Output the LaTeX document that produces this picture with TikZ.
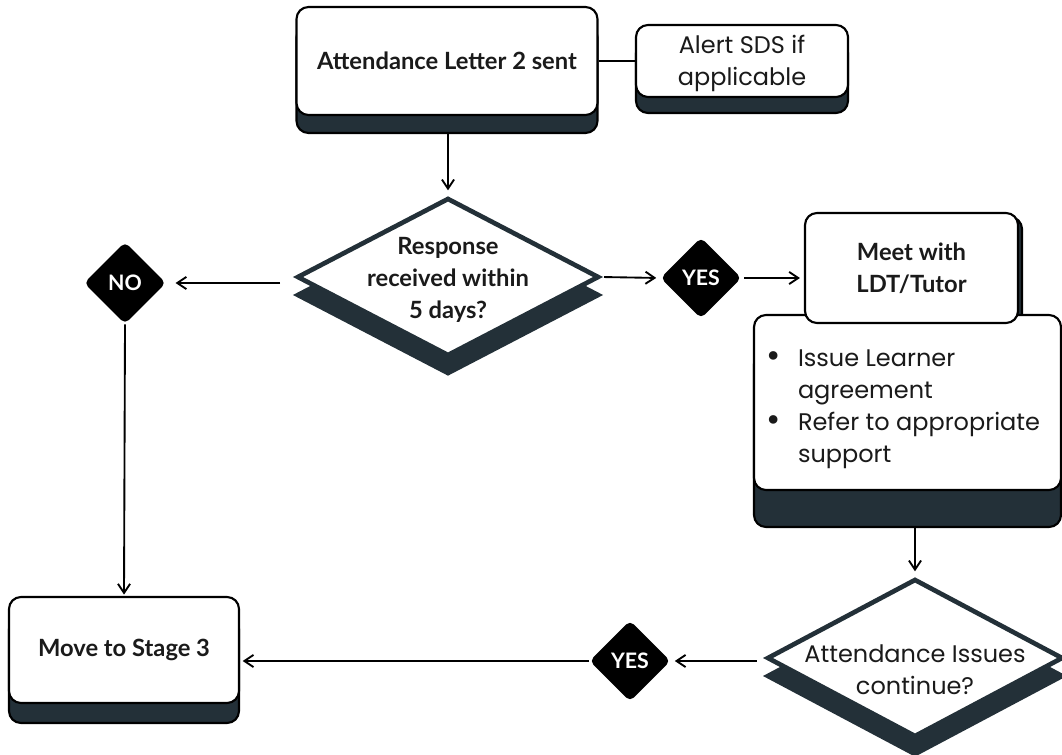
\documentclass[tikz,border=0pt]{standalone}
\usepackage{fontspec}
\setmainfont{Poppins}
\newfontfamily\latof{Lato}
\usetikzlibrary{shapes.geometric,arrows.meta}
\definecolor{dk}{HTML}{233038}
\definecolor{ink}{HTML}{1A1A1A}
\newcommand{\bul}{\leavevmode\llap{\raisebox{-0.5pt}{\scalebox{1.45}{\textbullet}}\hspace{13pt}}}
\tikzset{
  box/.style={draw=black, line width=1.6pt, fill=white, rounded corners=9pt, inner sep=0pt},
  boxsh/.style={draw=black, line width=1.6pt, fill=dk, rounded corners=9pt, inner sep=0pt},
  bigdia/.style={shape=diamond, draw=dk, line width=3.5pt, fill=white, inner sep=0pt},
  bigdiash/.style={shape=diamond, draw=dk, line width=3.5pt, fill=dk, inner sep=0pt},
  tagdia/.style={shape=diamond, fill=black, rounded corners=4pt, inner sep=0pt, text=white,
    font=\latof\bfseries\fontsize{16}{18}\selectfont},
  btxt/.style={font=\latof\bfseries\fontsize{17.8}{24}\selectfont, text=ink, align=center},
  rtxt/.style={font=\fontsize{18}{24}\selectfont, text=ink, align=center},
  arr/.style={line width=1.4pt, -{Straight Barb[length=2.4mm,width=3.2mm]}},
  link/.style={line width=1.4pt},
}
\begin{document}
\begin{tikzpicture}[x=0.75pt,y=-0.75pt]
\useasboundingbox (0,0) rectangle (1062,755);
% top box
\node[boxsh, minimum width=301*0.75pt, minimum height=108*0.75pt] (topS) at (447,79) {};
\node[box, minimum width=301*0.75pt, minimum height=108*0.75pt,
  label={[btxt]center:Attendance Letter 2 sent}] (top) at (447,61) {};
% alert
\node[boxsh, minimum width=212*0.75pt, minimum height=72*0.75pt] (alertS) at (742,77) {};
\node[box, minimum width=212*0.75pt, minimum height=72*0.75pt,
  label={[rtxt, yshift=-2pt]center:Alert SDS if\\applicable}] (alert) at (742,61) {};
% decision 1
\node[bigdiash, minimum width=302*0.75pt, minimum height=158*0.75pt] (d1S) at (448,295) {};
\node[bigdia, minimum width=302*0.75pt, minimum height=158*0.75pt,
  label={[btxt, yshift=-2pt]center:Response\\received within\\5 days?}] (d1) at (448,277) {};
% tags
\node[tagdia, minimum width=82*0.75pt, minimum height=82*0.75pt] (no) at (125,283) {NO};
\node[tagdia, minimum width=81*0.75pt, minimum height=81*0.75pt] (yes1) at (701,278) {YES};
% meet + bullets
\node[boxsh, minimum width=213*0.75pt, minimum height=110*0.75pt] (meetS) at (915.5,272) {};
\node[boxsh, minimum width=307*0.75pt, minimum height=175*0.75pt] (bulS) at (907.5,439.5) {};
\node[box, minimum width=307*0.75pt, minimum height=175*0.75pt,
  font=\fontsize{18}{24}\selectfont, text=ink] (bul) at (907.5,402.5)
  {\parbox{230.25pt}{\vspace*{10.5pt}\raggedright\leftskip=33pt
   \bul Issue Learner\\agreement\par
   \bul Refer to appropriate\\support\par}};
\node[box, minimum width=213*0.75pt, minimum height=110*0.75pt,
  label={[btxt]center:Meet with\\LDT/Tutor}] (meet) at (911.5,268) {};
% decision 2
\node[bigdiash, minimum width=296*0.75pt, minimum height=158*0.75pt] (d2S) at (915,676) {};
\node[bigdia, minimum width=296*0.75pt, minimum height=158*0.75pt,
  label={[rtxt, yshift=-9pt]center:Attendance Issues\\continue?}] (d2) at (915,658) {};
\node[tagdia, minimum width=81*0.75pt, minimum height=81*0.75pt] (yes2) at (630,661) {YES};
% move
\node[boxsh, minimum width=230*0.75pt, minimum height=106*0.75pt] (moveS) at (124,670) {};
\node[box, minimum width=230*0.75pt, minimum height=106*0.75pt,
  label={[btxt]center:Move to Stage 3}] (move) at (124,650) {};
% connectors
\draw[link] (top.east) -- (alert.west);
\draw[arr, shorten >=4pt] (d1.north |- topS.south) -- (d1.north);
\draw[arr, shorten <=2pt, shorten >=3pt] (d1.east) -- (yes1.west);
\draw[arr, shorten <=2pt, shorten >=3pt] (yes1.east) -- (yes1.east -| meet.west);
\draw[arr, shorten <=11pt, shorten >=7pt] (d1.west |- no.east) -- (no.east);
\draw[arr, shorten >=1pt] (no.south) -- (move.north);
\draw[arr, shorten >=4pt] (d2.north |- bulS.south) -- (d2.north);
\draw[arr, shorten <=6pt, shorten >=3pt] (d2.west |- yes2.east) -- (yes2.east);
\draw[arr, shorten >=2pt] (yes2.west) -- (yes2.west -| move.east);
\end{tikzpicture}
\end{document}
